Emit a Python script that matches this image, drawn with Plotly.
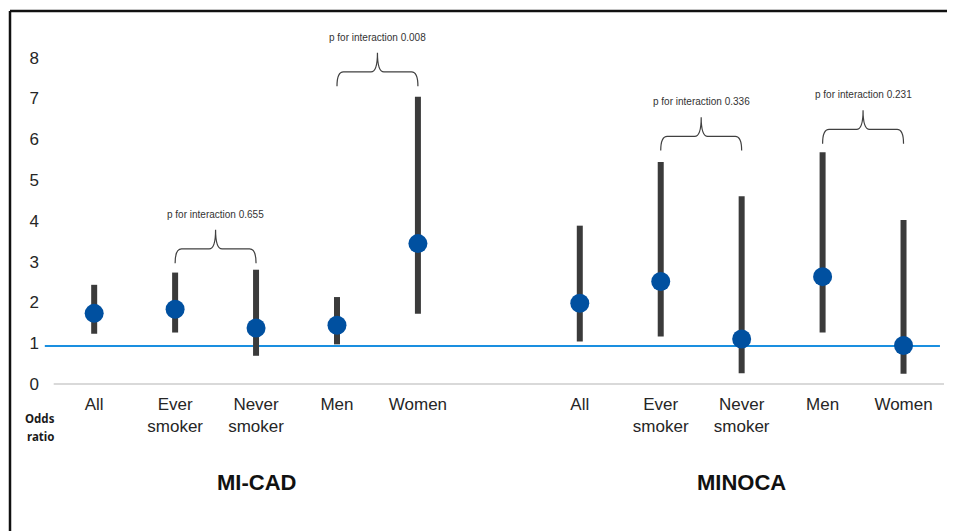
import plotly.graph_objects as go

# ---------------- data ----------------
categories = ["All", "Ever<br>smoker", "Never<br>smoker", "Men", "Women"]
groups = ["MI-CAD", "MINOCA"]

micad_or = [1.73, 1.83, 1.37, 1.44, 3.44]
micad_lo = [1.23, 1.26, 0.69, 0.97, 1.72]
micad_hi = [2.43, 2.73, 2.80, 2.13, 7.04]

minoca_or = [1.98, 2.51, 1.10, 2.63, 0.94]
minoca_lo = [1.04, 1.16, 0.26, 1.26, 0.25]
minoca_hi = [3.88, 5.44, 4.60, 5.68, 4.02]

y_ticks = [0, 1, 2, 3, 4, 5, 6, 7, 8]
ref_line = 0.93

# interaction brackets: (first category pos, second category pos, base height, label)
bracket_left = [1, 3, 7, 9]
bracket_right = [2, 4, 8, 10]
bracket_base = [2.96, 7.30, 5.72, 5.89]
bracket_text = ["p for interaction 0.655", "p for interaction 0.008",
                "p for interaction 0.336", "p for interaction 0.231"]

# ---------------- layout helpers ----------------
micad_x = [0, 1, 2, 3, 4]
minoca_x = [6, 7, 8, 9, 10]
xs = micad_x + minoca_x
ors = micad_or + minoca_or
los = micad_lo + minoca_lo
his = micad_hi + minoca_hi

FONT = "Liberation Sans, Arial, sans-serif"
OFF = 8                      # page body margin
W, H = 955 - OFF, 531 - OFF
ML, MR, MT, MB = 36, 11, 17, 143
PW, PH = W - ML - MR, H - MT - MB


def px2paper_x(px):           # px in screenshot coordinates
    return (px - OFF - ML) / PW


def px2paper_y(py):
    return (H - MB - (py - OFF)) / PH


fig = go.Figure()

fig.add_trace(go.Scatter(
    x=xs, y=ors, mode="markers",
    marker=dict(size=19, color="#0050a0", line=dict(width=0)),
    error_y=dict(type="data", symmetric=False,
                 array=[h - o for h, o in zip(his, ors)],
                 arrayminus=[o - l for o, l in zip(ors, los)],
                 color="#3b3b3b", thickness=6, width=0),
    showlegend=False, hoverinfo="skip",
))

shapes = []
# x axis line at 0
shapes.append(dict(type="line", xref="x", yref="y", x0=-0.5, x1=10.5, y0=0, y1=0,
                   line=dict(color="#d9d9d9", width=2), layer="below"))
# reference line
shapes.append(dict(type="line", xref="x", yref="y", x0=-0.61, x1=10.45, y0=ref_line, y1=ref_line,
                   line=dict(color="#1a8fe0", width=2), layer="below"))

# brackets
d_h = 0.35   # end -> horizontal
d_t = 0.47   # horizontal -> tip
d_txt = 0.38
annotations = []
for x0, x1, yb, txt in zip(bracket_left, bracket_right, bracket_base, bracket_text):
    xc = (x0 + x1) / 2
    yh = yb + d_h
    yt = yh + d_t
    r = 0.08
    path = (f"M {x0},{yb} Q {x0},{yh} {x0 + r},{yh} L {xc - r},{yh} "
            f"Q {xc},{yh} {xc},{yt} Q {xc},{yh} {xc + r},{yh} "
            f"L {x1 - r},{yh} Q {x1},{yh} {x1},{yb}")
    shapes.append(dict(type="path", xref="x", yref="y", path=path,
                       line=dict(color="#404040", width=1.2)))
    annotations.append(dict(x=xc, y=yt + d_txt, xref="x", yref="y", text=txt,
                            xanchor="center", yanchor="middle",
                            showarrow=False, font=dict(family=FONT, size=10, color="#333333")))

# frame (left and top)
shapes.append(dict(type="line", xref="paper", yref="paper",
                   x0=px2paper_x(10), x1=px2paper_x(10), y0=px2paper_y(11), y1=px2paper_y(531),
                   line=dict(color="#111111", width=2.5)))
shapes.append(dict(type="line", xref="paper", yref="paper",
                   x0=px2paper_x(10), x1=px2paper_x(955), y0=px2paper_y(11), y1=px2paper_y(11),
                   line=dict(color="#111111", width=2.5)))

# group labels
for gx, g in zip([micad_x[2], minoca_x[2]], groups):
    annotations.append(dict(x=gx, y=px2paper_y(482), xref="x", yref="paper", text=f"<b>{g}</b>",
                            xanchor="center", yanchor="middle",
                            showarrow=False, font=dict(family=FONT, size=22, color="#111111")))

# Odds ratio label
for word, py in zip(["Odds", "ratio"], [418, 436]):
    annotations.append(dict(x=px2paper_x(40), y=px2paper_y(py), xref="paper", yref="paper",
                            text=f"<b>{word}</b>", showarrow=False,
                            xanchor="center", yanchor="middle",
                            font=dict(family="Noto Sans, sans-serif", size=11.5, color="#1a1a1a")))

fig.update_layout(
    width=W, height=H,
    margin=dict(l=ML, r=MR, t=MT, b=MB),
    paper_bgcolor="white", plot_bgcolor="white",
    shapes=shapes, annotations=annotations,
    font=dict(family=FONT, color="#262626"),
    xaxis=dict(range=[-0.62, 10.5], tickvals=xs, ticktext=categories + categories,
               showgrid=False, zeroline=False, showline=False, ticks="",
               tickfont=dict(size=17, color="#262626"), ticklabelstandoff=4),
    yaxis=dict(range=[-0.1, 8.8], tickvals=y_ticks, showgrid=False, zeroline=False,
               showline=False, ticks="", tickfont=dict(size=17, color="#262626"),
               ticklabelstandoff=4),
)

fig.write_html("out.html")
